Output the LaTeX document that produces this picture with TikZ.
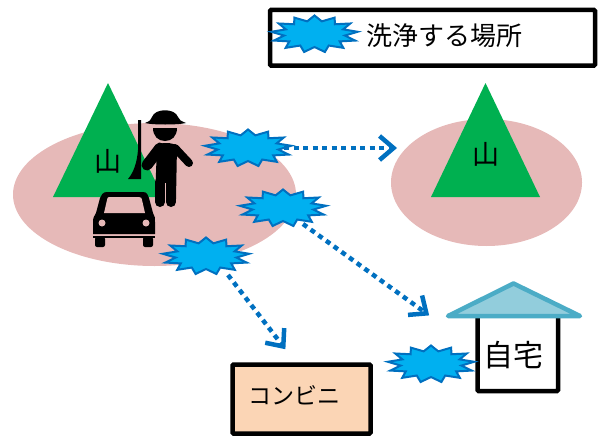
\documentclass[tikz,border=0pt]{standalone}
\usepackage{fontspec}
\newfontfamily\cjk{Noto Sans CJK JP}
\usetikzlibrary{arrows.meta,shapes.geometric}
\definecolor{bluedk}{HTML}{0070C0}
\definecolor{bluelt}{HTML}{00B0F0}
\definecolor{pinkc}{HTML}{E6B9B8}
\definecolor{greenc}{HTML}{00B050}
\definecolor{roofc}{HTML}{92CDDC}
\definecolor{roofl}{HTML}{4BACC6}
\definecolor{shopc}{HTML}{FBD5B5}
\tikzset{
  burst/.style={star,star points=13,star point ratio=1.42,minimum size=37pt,inner sep=0pt,
    draw=bluedk,fill=bluelt,line width=2pt,xscale=2.35,transform shape},
  move/.style={draw=bluedk,line width=4.5pt,dash pattern=on 5pt off 4.5pt,
    -{Straight Barb[length=14pt,width=24pt,line width=4.5pt]},shorten >=1pt},
  hill/.style={fill=greenc},
  spot/.style={fill=pinkc},
  frame/.style={draw=black,line width=4.5pt,rounded corners=1pt},
  lbl/.style={font=\cjk,text=black,inner sep=0pt}
}
\begin{document}
\begin{tikzpicture}[x=1pt,y=-1pt]
\useasboundingbox (0,0) rectangle (599,436);
% areas
\fill[spot] (154.5,194.5) ellipse [x radius=141.5,y radius=71.5];
\fill[spot] (486.5,182.5) ellipse [x radius=95.5,y radius=63.5];
\fill[hill] (108,83) -- (163,197) -- (53,197) -- cycle;
\fill[hill] (485.5,83) -- (540,197) -- (431,197) -- cycle;
\node[lbl,font=\cjk\fontsize{27}{27}\selectfont] (m1) at (108,161) {山};
\node[lbl,font=\cjk\fontsize{27}{27}\selectfont] (m2) at (486,154) {山};
% person
\fill[black] (145,123) .. controls (150,121) and (151,120) .. (152,117)
  .. controls (155,108) and (175,108) .. (178,117)
  .. controls (179,120) and (181,121) .. (186,123)
  .. controls (178,125) and (152,125) .. (145,123) -- cycle;
\fill[black] (153,128) -- (177,128) .. controls (177,136) and (172,141) .. (165,141)
  .. controls (158,141) and (153,136) .. (153,128) -- cycle;
\fill[black] (157,146) .. controls (159,142) and (173,142) .. (177,146) -- (176,199) -- (155,199) -- cycle;
\draw[black,line width=11pt,line cap=round] (160,148) -- (147,165);
\draw[black,line width=8pt,line cap=round] (175,148) -- (189,163);
\draw[black,line width=10pt,line cap=round] (160,182) -- (160,202);
\draw[black,line width=10pt,line cap=round] (171,182) -- (171,202);
\draw[pinkc,line width=1pt] (165.5,183) -- (165.5,207);
% broom
\fill[black] (138,120) -- (141,120) -- (141,179) -- (128,179) .. controls (134,172) and (137,162) .. (138,150) -- cycle;
% car
\fill[black] (107,192) -- (143,192) .. controls (147,192) and (148,195) .. (149,198) -- (153,213)
  .. controls (155,216) and (155,218) .. (155,222) -- (155,234) -- (93,234) -- (93,222)
  .. controls (93,218) and (94,216) .. (96,213) -- (100,198) .. controls (101,195) and (103,192) .. (107,192) -- cycle;
\fill[pinkc] (109,197) -- (139,197) .. controls (141,197) and (142,198) .. (142,200) -- (145,213) -- (104,213) -- (107,200) .. controls (107,198) and (108,197) .. (109,197) -- cycle;
\fill[pinkc] (102,223) circle (3.5);
\fill[pinkc] (146,223) circle (3.5);
\fill[black] (93,235.5) rectangle (155,237.5);
\fill[black,rounded corners=2pt] (95,237) rectangle (105,247);
\fill[black,rounded corners=2pt] (143,237) rectangle (153,247);
% shop
\filldraw[frame,fill=shopc] (232.5,364.5) rectangle (370.5,433.5);
\node[lbl,font=\cjk\fontsize{23}{23}\selectfont] (shop) at (294,395) {コンビニ};
% house
\filldraw[frame,fill=white] (477.5,315) rectangle (558,391);
\filldraw[draw=roofl,fill=roofc,line width=4.5pt,line join=round] (513.5,283.5) -- (580,316) -- (448,316) -- cycle;
\node[lbl,font=\cjk\fontsize{30}{30}\selectfont] (home) at (513,355) {自宅};
% legend
\draw[frame,fill=white] (270,10) rectangle (595,65.5);
\node[burst] (lb) at (314.5,34) {};
\node[lbl,font=\cjk\fontsize{26}{26}\selectfont] (lt) at (444,36) {洗浄する場所};
% bursts
\node[burst] (b1) at (248,148) {};
\node[burst] (b2) at (283,208) {};
\node[burst] (b3) at (206,256) {};
\node[burst] (b4) at (431,364) {};
% arrow ends
\coordinate (e1) at (398,148);
\coordinate (e2) at (430,316);
\coordinate (e3) at (286,350);
\draw[move] (b1.center) ++(36,0) -- (e1);
\draw[move] (b2.center) ++(20,16) -- (e2);
\draw[move] (b3.center) ++(22,19) -- (e3);
\end{tikzpicture}
\end{document}
